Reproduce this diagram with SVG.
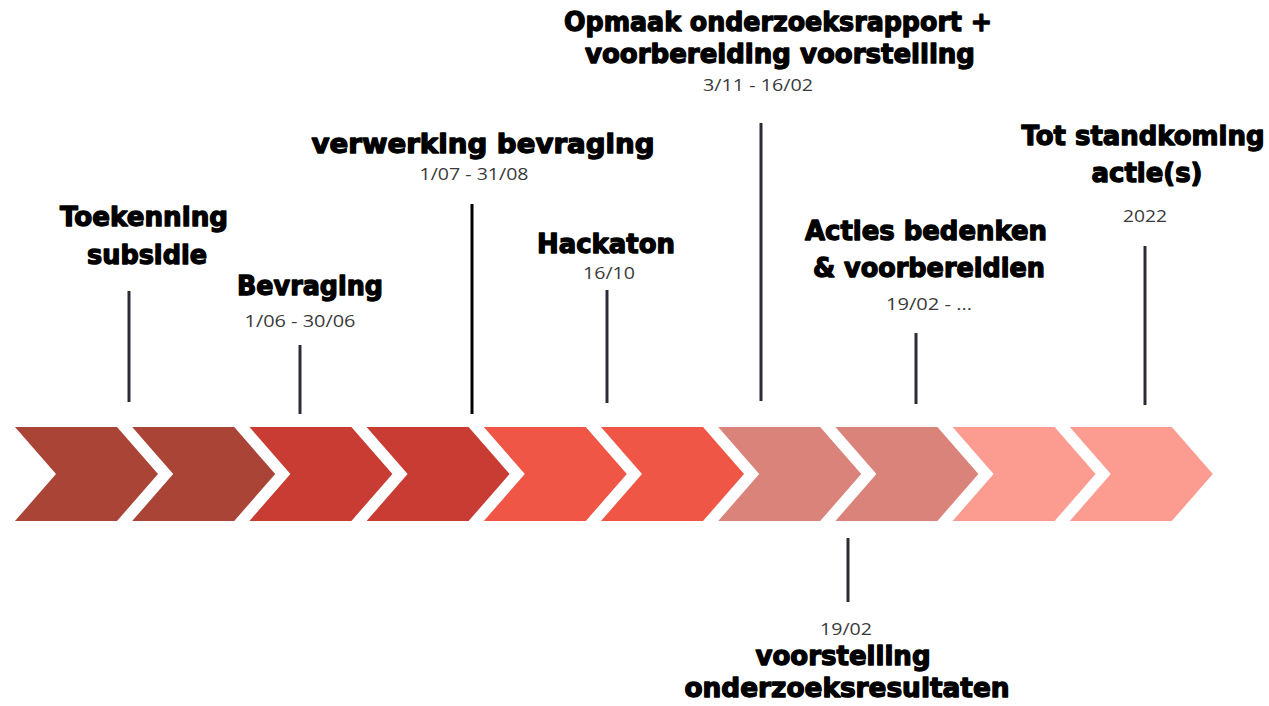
<svg xmlns="http://www.w3.org/2000/svg" width="1269" height="706" viewBox="0 0 1269 706">
<style>
.t{font-family:"DejaVu Sans","Liberation Sans",sans-serif;font-weight:bold;font-size:26px;fill:#000;stroke:#000;stroke-width:1.3;stroke-linejoin:round;text-anchor:middle}
.d{font-family:"Open Sans","Noto Sans",sans-serif;font-size:17px;fill:#3a3a3a;text-anchor:middle}
.tick{stroke:#2c2c38;stroke-width:3;fill:none}
.c1{fill:#A94436}.c2{fill:#C93C33}.c3{fill:#F05645}.c4{fill:#D9837A}.c5{fill:#FC9C91}
</style>
<defs>
<path id="chev" d="M0,0 H102 L143,47 L102,94 H0 L41,47 Z"/>
</defs>
<rect width="1269" height="706" fill="#fff"/>
<g id="timeline">
<use href="#chev" class="c1" x="15" y="427"/>
<use href="#chev" class="c1" x="132.2" y="427"/>
<use href="#chev" class="c2" x="249.4" y="427"/>
<use href="#chev" class="c2" x="366.6" y="427"/>
<use href="#chev" class="c3" x="483.8" y="427"/>
<use href="#chev" class="c3" x="601" y="427"/>
<use href="#chev" class="c4" x="718.2" y="427"/>
<use href="#chev" class="c4" x="835.4" y="427"/>
<use href="#chev" class="c5" x="952.6" y="427"/>
<use href="#chev" class="c5" x="1069.8" y="427"/>
</g>
<g id="connectors">
<line class="tick" x1="129" y1="291" x2="129" y2="402"/>
<line class="tick" x1="300" y1="345" x2="300" y2="414"/>
<line class="tick" x1="472" y1="204" x2="472" y2="414" style="stroke:#000"/>
<line class="tick" x1="607" y1="290" x2="607" y2="403"/>
<line class="tick" x1="761" y1="123" x2="761" y2="401"/>
<line class="tick" x1="916" y1="333" x2="916" y2="404"/>
<line class="tick" x1="1145" y1="246" x2="1145" y2="405"/>
<line class="tick" x1="848" y1="538" x2="848" y2="602"/>
</g>
<g id="toekenning">
<text class="t" x="144" y="226" textLength="168" lengthAdjust="spacingAndGlyphs">Toekenning</text>
<text class="t" x="147" y="264" textLength="120" lengthAdjust="spacingAndGlyphs">subsidie</text>
</g>
<g id="bevraging">
<text class="t" x="310" y="295" textLength="146" lengthAdjust="spacingAndGlyphs">Bevraging</text>
<text class="d" x="300" y="327" textLength="111" lengthAdjust="spacingAndGlyphs">1/06 - 30/06</text>
</g>
<g id="verwerking">
<text class="t" x="483" y="153" textLength="343" lengthAdjust="spacingAndGlyphs">verwerking bevraging</text>
<text class="d" x="474" y="180" textLength="109" lengthAdjust="spacingAndGlyphs">1/07 - 31/08</text>
</g>
<g id="hackaton">
<text class="t" x="606" y="253" textLength="138" lengthAdjust="spacingAndGlyphs">Hackaton</text>
<text class="d" x="609" y="279" textLength="52" lengthAdjust="spacingAndGlyphs">16/10</text>
</g>
<g id="opmaak">
<text class="t" x="778" y="31" textLength="428" lengthAdjust="spacingAndGlyphs">Opmaak onderzoeksrapport +</text>
<text class="t" x="780" y="63" textLength="390" lengthAdjust="spacingAndGlyphs">voorbereiding voorstelling</text>
<text class="d" x="758" y="91" textLength="110" lengthAdjust="spacingAndGlyphs">3/11 - 16/02</text>
</g>
<g id="voorstelling">
<text class="d" x="846" y="635" textLength="52" lengthAdjust="spacingAndGlyphs">19/02</text>
<text class="t" x="843" y="665" textLength="175" lengthAdjust="spacingAndGlyphs">voorstelling</text>
<text class="t" x="847" y="697" textLength="325" lengthAdjust="spacingAndGlyphs">onderzoeksresultaten</text>
</g>
<g id="acties">
<text class="t" x="926" y="240" textLength="242" lengthAdjust="spacingAndGlyphs">Acties bedenken</text>
<text class="t" x="929" y="277" textLength="232" lengthAdjust="spacingAndGlyphs">&amp; voorbereidien</text>
<text class="d" x="929" y="310" textLength="86" lengthAdjust="spacingAndGlyphs">19/02 - ...</text>
</g>
<g id="totstandkoming">
<text class="t" x="1143" y="145" textLength="243" lengthAdjust="spacingAndGlyphs">Tot standkoming</text>
<text class="t" x="1147" y="182" textLength="111" lengthAdjust="spacingAndGlyphs">actie(s)</text>
<text class="d" x="1145" y="222" textLength="44" lengthAdjust="spacingAndGlyphs">2022</text>
</g>
</svg>
